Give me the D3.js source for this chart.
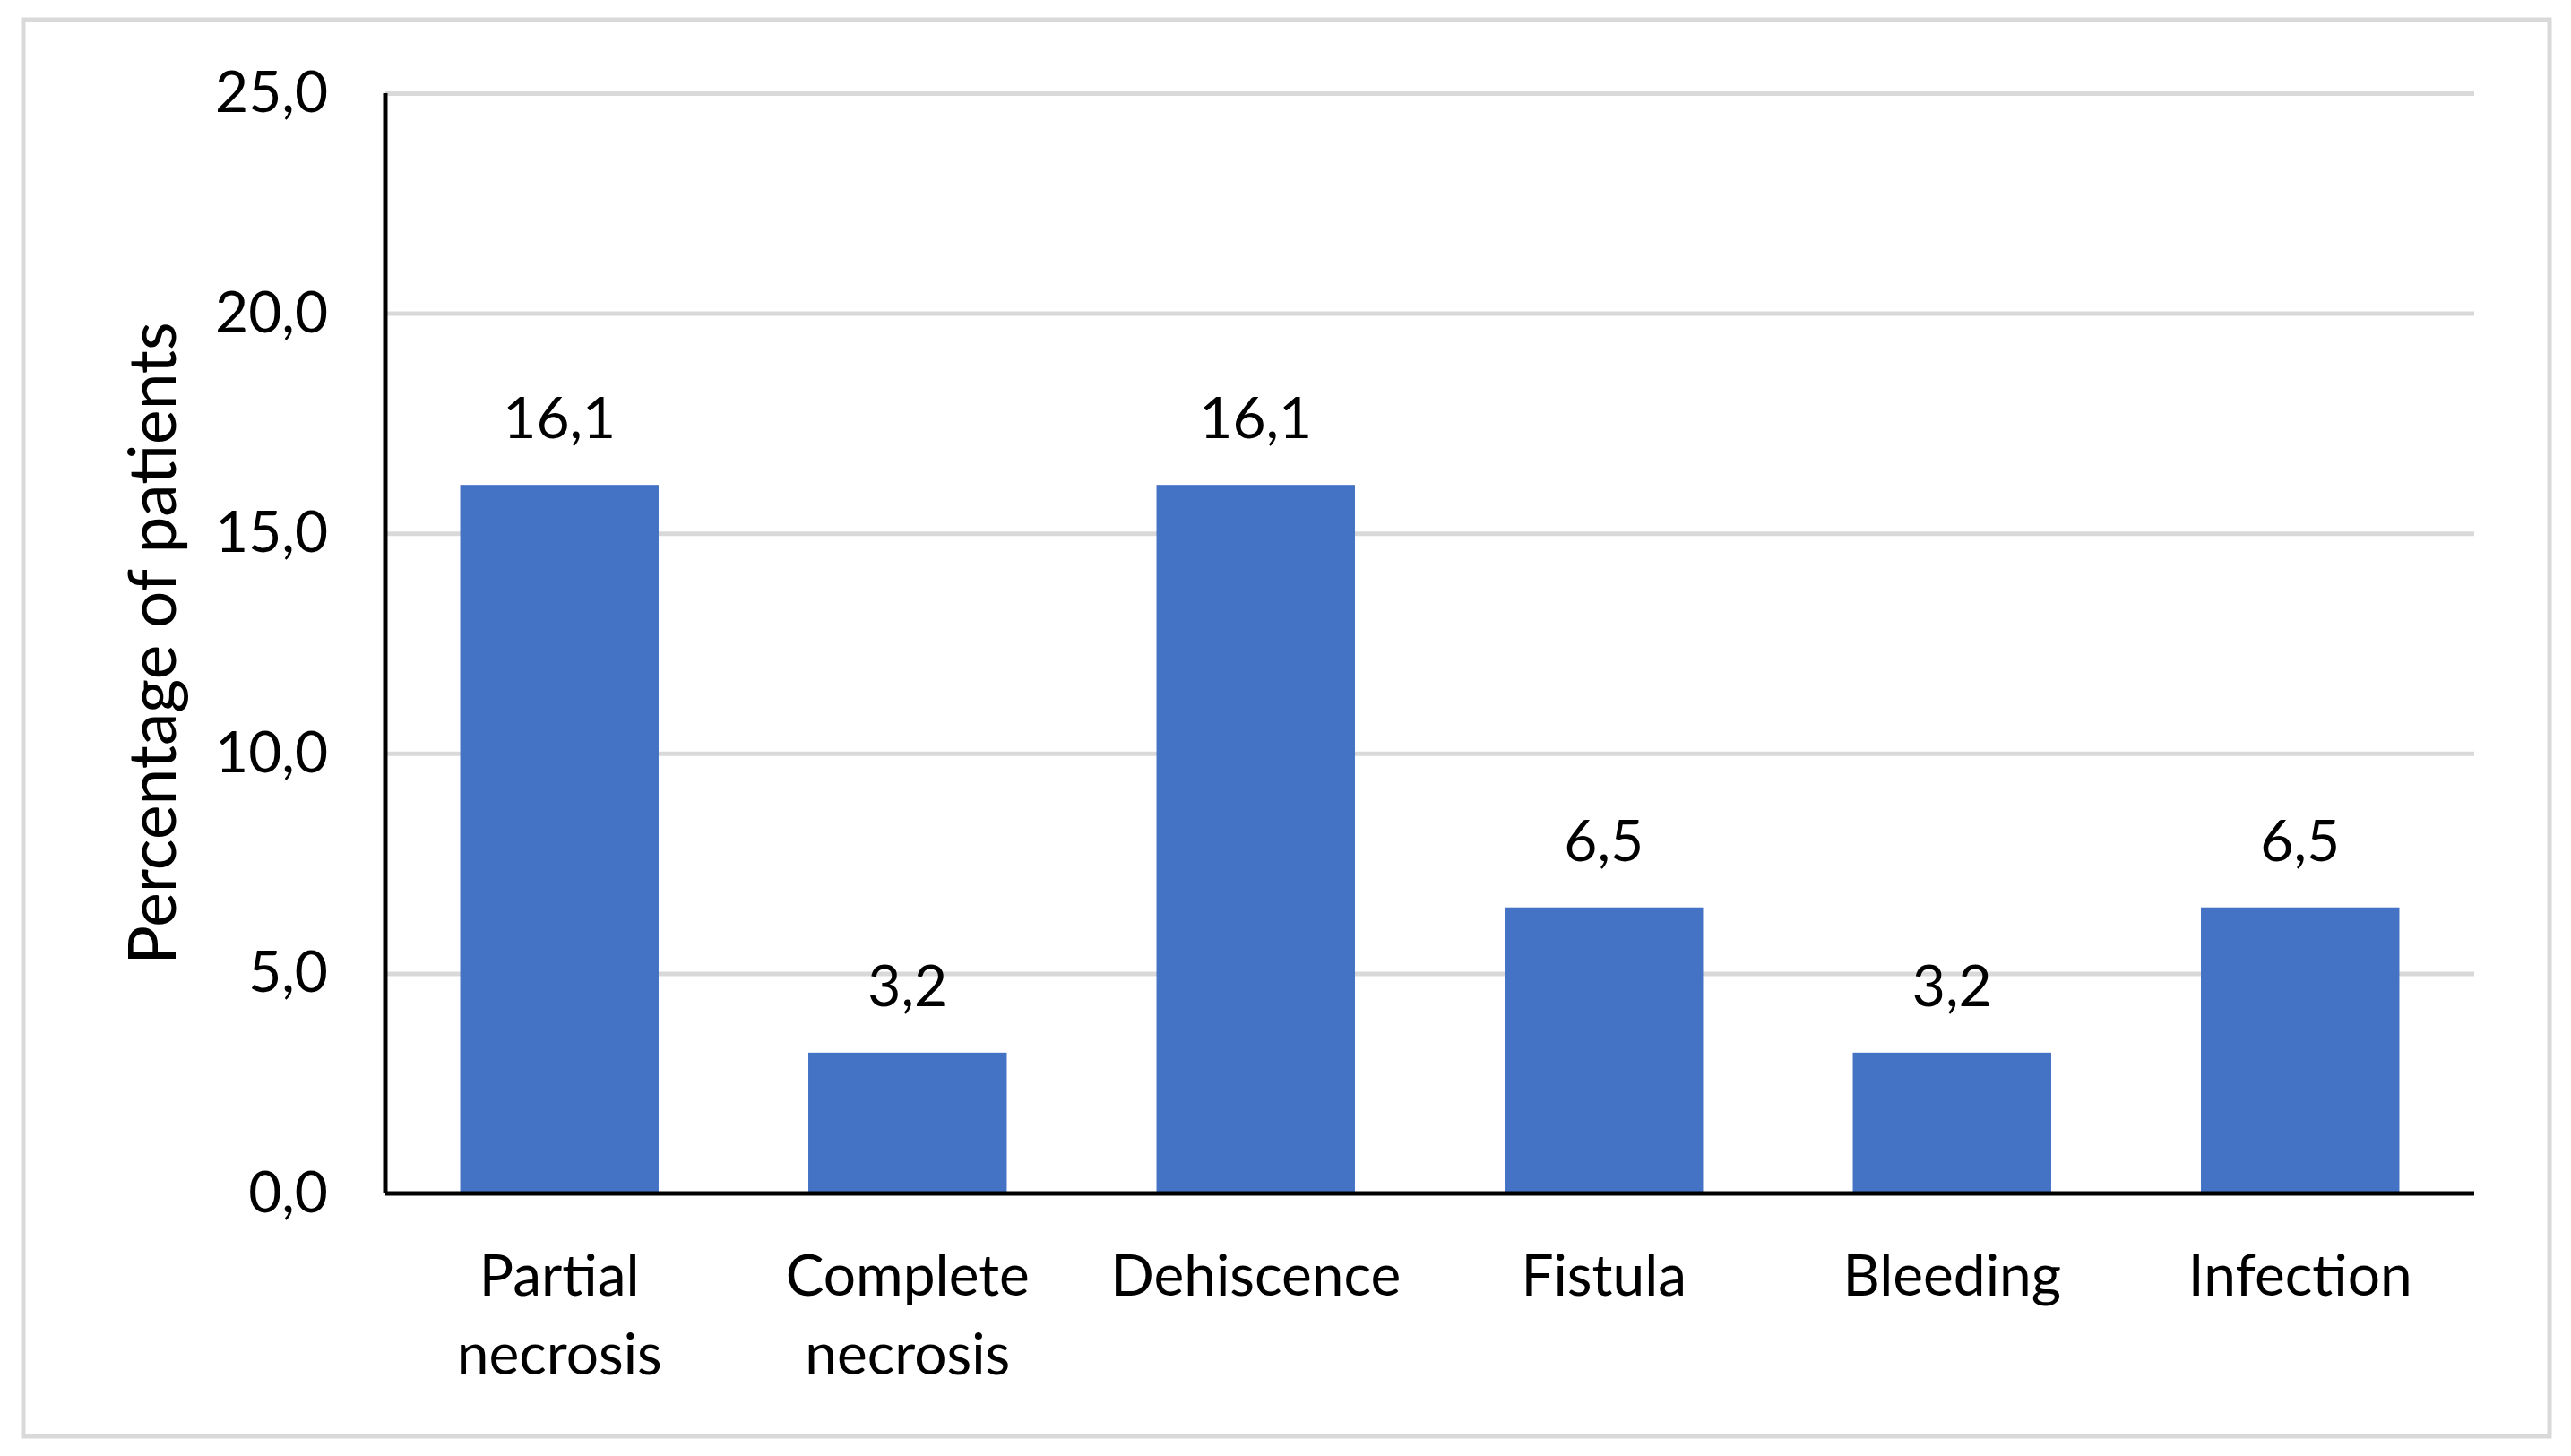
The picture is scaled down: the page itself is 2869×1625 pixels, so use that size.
<!DOCTYPE html>
<html>
<head>
<meta charset="utf-8">
<script src="https://cdn.jsdelivr.net/npm/d3@7"></script>
<style>
  html, body { margin: 0; padding: 0; background: #fff; }
  svg { display: block; }
</style>
</head>
<body>
<div id="chart"></div>
<script>
// Complication rates
const CATEGORIES = [
  ['Partial', 'necrosis'],
  ['Complete', 'necrosis'],
  ['Dehiscence'],
  ['Fistula'],
  ['Bleeding'],
  ['Infection']
];
const VALUES = [16.1, 3.2, 16.1, 6.5, 3.2, 6.5];
const Y_TICKS = [0, 5, 10, 15, 20, 25];
const Y_TITLE = 'Percentage of patients';

const W = 2869, H = 1625;
let margin = {top: 104, right: 108, bottom: 293, left: 430};
let width = W - margin.left - margin.right,
  height = H - margin.top - margin.bottom;

const FONT = 'Lato, "Open Sans", sans-serif';
const fmt = v => d3.format('.1f')(v).replace('.', ',');

let root = d3.select('#chart')
  .append('svg')
  .attr('width', W)
  .attr('height', H);

// outer frame
root.append('rect')
  .attr('x', 26).attr('y', 22)
  .attr('width', 2819).attr('height', 1581)
  .attr('fill', '#fff')
  .attr('stroke', '#d9d9d9')
  .attr('stroke-width', 5);

let svg = root.append('g')
  .attr('transform', 'translate(' + margin.left + ',' + margin.top + ')');

let x = d3.scaleBand()
  .range([0, width])
  .domain(d3.range(CATEGORIES.length))
  .paddingInner(0.43)
  .paddingOuter(0.215);

let y = d3.scaleLinear()
  .range([height, 0])
  .domain([0, 25]);

// gridlines
svg.append('g')
  .call(d3.axisLeft(y).tickValues(Y_TICKS.slice(1)).tickSize(-width).tickFormat(''))
  .call(g => g.select('.domain').remove())
  .selectAll('line')
  .attr('stroke', '#d9d9d9')
  .attr('stroke-width', 5);

// y tick labels
svg.append('g')
  .call(d3.axisLeft(y).tickValues(Y_TICKS).tickSize(0).tickPadding(64).tickFormat(fmt))
  .call(g => g.select('.domain').remove())
  .selectAll('text')
  .style('font-family', FONT)
  .style('font-size', '64px')
  .attr('fill', '#000');

// bars
svg.selectAll('.bar')
  .data(VALUES)
  .enter()
  .append('rect')
  .attr('class', 'bar')
  .attr('x', (d, i) => x(i))
  .attr('y', d => y(d))
  .attr('width', x.bandwidth())
  .attr('height', d => height - y(d))
  .attr('fill', '#4472c4');

// value labels
svg.selectAll('.val')
  .data(VALUES)
  .enter()
  .append('text')
  .attr('class', 'val')
  .attr('x', (d, i) => x(i) + x.bandwidth() / 2)
  .attr('y', d => y(d) - 52)
  .attr('text-anchor', 'middle')
  .style('font-family', FONT)
  .style('font-size', '64px')
  .text(fmt);

// axis lines
svg.append('line')
  .attr('x1', 0).attr('x2', 0)
  .attr('y1', 0).attr('y2', height)
  .attr('stroke', '#000').attr('stroke-width', 5);
svg.append('line')
  .attr('x1', 0).attr('x2', width)
  .attr('y1', height).attr('y2', height)
  .attr('stroke', '#000').attr('stroke-width', 5);

// category labels
let cat = svg.selectAll('.cat')
  .data(CATEGORIES)
  .enter()
  .append('text')
  .attr('class', 'cat')
  .attr('text-anchor', 'middle')
  .style('font-family', FONT)
  .style('font-size', '64px')
  .attr('transform', (d, i) => 'translate(' + (x(i) + x.bandwidth() / 2) + ',' + (height + 114) + ')');
cat.selectAll('tspan')
  .data(d => d)
  .enter()
  .append('tspan')
  .attr('x', 0)
  .attr('y', (d, i) => i * 88)
  .text(d => d);

// y axis title
svg.append('text')
  .attr('text-anchor', 'middle')
  .attr('transform', 'translate(' + (-234) + ',' + (height / 2) + ') rotate(-90)')
  .style('font-family', FONT)
  .style('font-size', '73px')
  .text(Y_TITLE);
</script>
</body>
</html>
